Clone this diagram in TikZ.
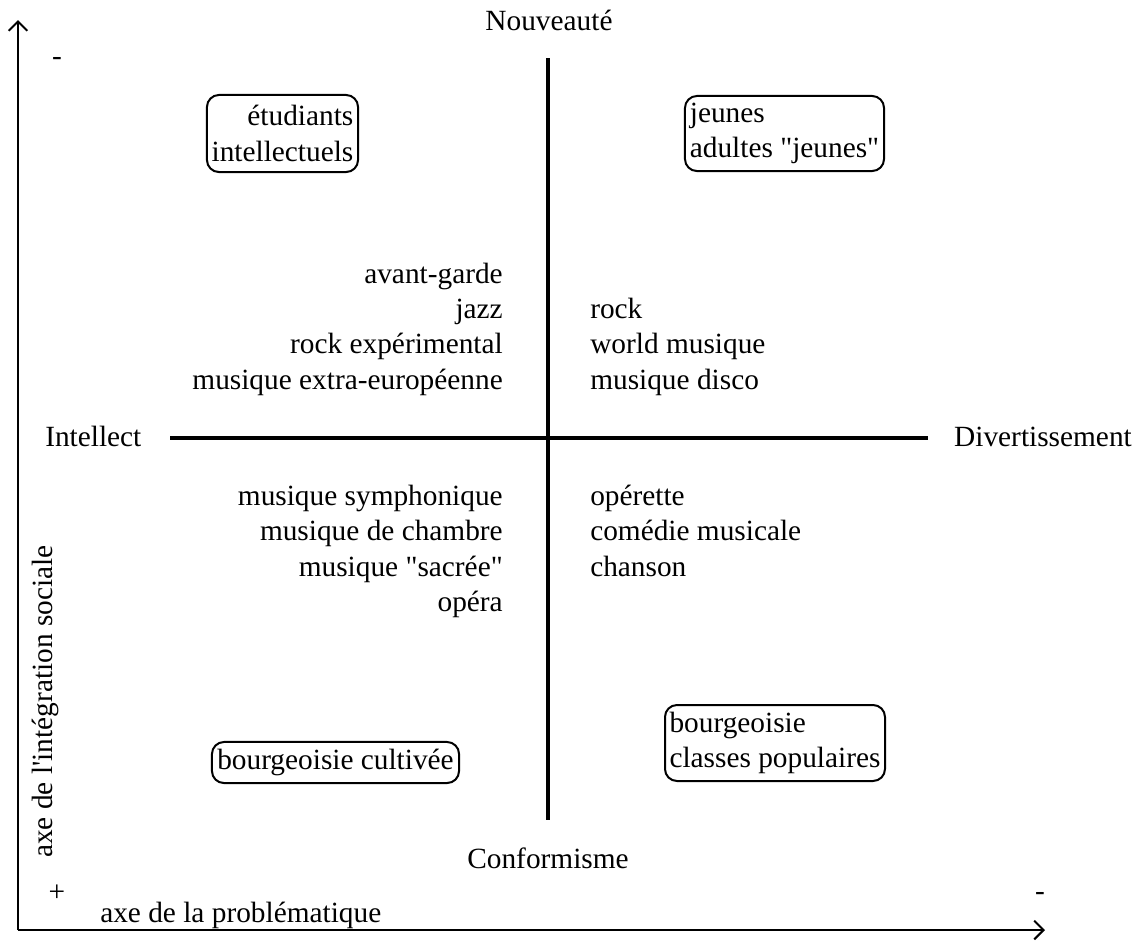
\documentclass[tikz,border=0pt]{standalone}
\usepackage{fontspec}
\newfontfamily\plainserif{Liberation Serif}
\usetikzlibrary{arrows.meta}
\begin{document}
\begin{tikzpicture}[x=0.75pt,y=-0.75pt,
  lbl/.style={inner sep=0pt,font=\plainserif\fontsize{22}{26.5}\selectfont},
  grp/.style={draw,line width=1.5pt,rounded corners=9pt,inner sep=0pt,font=\plainserif\fontsize{22}{26.5}\selectfont},
  axisline/.style={line width=1.5pt,-{Straight Barb[length=7pt,width=14pt,line width=1.5pt]}},
  crossline/.style={line width=2.8pt}]
\useasboundingbox (0,0) rectangle (1142,940);
% outer axes
\coordinate (O) at (18,930);
\coordinate (Ytop) at (18,20);
\coordinate (Xend) at (1045,930);
\draw[axisline] (O) -- (Ytop);
\draw[axisline] (O) -- (Xend);
% cross
\coordinate (Ntop) at (548,58);
\coordinate (Nbot) at (548,820);
\coordinate (Wl) at (170,438);
\coordinate (Er) at (928,438);
\draw[crossline] (Ntop) -- (Nbot);
\draw[crossline] (Wl) -- (Er);
% pole labels
\node[lbl,anchor=base] (nouv) at (549,30) {Nouveauté};
\node[lbl,anchor=base] (conf) at (548,868) {Conformisme};
\node[lbl,anchor=base west] (intel) at (45,446) {Intellect};
\node[lbl,anchor=base] (divert) at (1043,446) {Divertissement};
% axis labels
\node[lbl,anchor=base west,rotate=90] (vax) at (52,858) {axe de l'intégration sociale};
\node[lbl,anchor=base west] (hax) at (100,922) {axe de la problématique};
\node[lbl] (mtop) at (57,61) {-};
\node[lbl] (pbot) at (57,893) {+};
\node[lbl] (mright) at (1040,896) {-};
% groups
\node[grp,align=right,minimum width=113.3pt,minimum height=57.8pt] (etud) at (282.5,133.5) {étudiants\\intellectuels};
\node[grp,align=left,minimum width=149.3pt,minimum height=56.3pt] (jeun) at (784.5,133.5) {jeunes\\adultes "jeunes"};
\node[grp,minimum width=185.3pt,minimum height=30.8pt] (bcult) at (335.5,762.5) {bourgeoisie cultivée};
\node[grp,align=left,minimum width=165pt,minimum height=57pt] (bpop) at (775,743) {bourgeoisie\\classes populaires};
% upper-left genres
\node[lbl,anchor=base east] (ul1) at (503,283) {avant-garde};
\node[lbl,anchor=base east] (ul2) at (503,318) {jazz};
\node[lbl,anchor=base east] (ul3) at (503,353) {rock expérimental};
\node[lbl,anchor=base east] (ul4) at (503,389) {musique extra-européenne};
% upper-right genres
\node[lbl,anchor=base west] (ur1) at (590,318) {rock};
\node[lbl,anchor=base west] (ur2) at (590,353) {world musique};
\node[lbl,anchor=base west] (ur3) at (590,389) {musique disco};
% lower-left genres
\node[lbl,anchor=base east] (ll1) at (503,505) {musique symphonique};
\node[lbl,anchor=base east] (ll2) at (503,540) {musique de chambre};
\node[lbl,anchor=base east] (ll3) at (503,576) {musique "sacrée"};
\node[lbl,anchor=base east] (ll4) at (503,611) {opéra};
% lower-right genres
\node[lbl,anchor=base west] (lr1) at (590,505) {opérette};
\node[lbl,anchor=base west] (lr2) at (590,540) {comédie musicale};
\node[lbl,anchor=base west] (lr3) at (590,576) {chanson};
\end{tikzpicture}
\end{document}
